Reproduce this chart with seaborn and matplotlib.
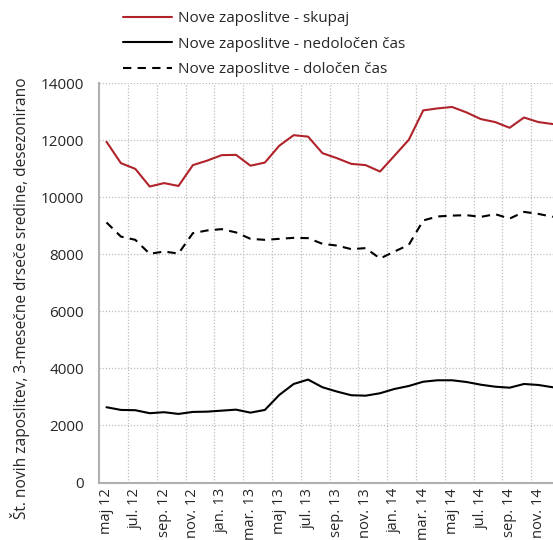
import pandas as pd
import numpy as np
import seaborn as sns
import matplotlib.pyplot as plt
from matplotlib.lines import Line2D

# -----------------------------
# Data
# -----------------------------
months = [
    "maj 12", "jun. 12", "jul. 12", "avg. 12", "sep. 12", "okt. 12", "nov. 12", "dec. 12",
    "jan. 13", "feb. 13", "mar. 13", "apr. 13", "maj 13", "jun. 13", "jul. 13", "avg. 13",
    "sep. 13", "okt. 13", "nov. 13", "dec. 13", "jan. 14", "feb. 14", "mar. 14", "apr. 14",
    "maj 14", "jun. 14", "jul. 14", "avg. 14", "sep. 14", "okt. 14", "nov. 14", "dec. 14",
]
skupaj = [11950, 11200, 11000, 10380, 10500, 10400, 11130, 11290, 11480, 11490, 11110, 11220,
          11810, 12180, 12130, 11550, 11375, 11175, 11130, 10905, 11460, 12020, 13050, 13120,
          13170, 12980, 12745, 12640, 12440, 12800, 12640, 12570]
nedolocen = [2640, 2545, 2535, 2430, 2465, 2405, 2475, 2485, 2520, 2555, 2450, 2545,
             3070, 3455, 3610, 3340, 3190, 3060, 3045, 3130, 3280, 3385, 3535, 3585,
             3585, 3525, 3430, 3360, 3325, 3455, 3420, 3340]
dolocen = [9120, 8625, 8510, 8020, 8100, 8030, 8745, 8840, 8885, 8770, 8545, 8510,
           8545, 8580, 8570, 8370, 8310, 8185, 8220, 7855, 8100, 8335, 9190, 9330,
           9360, 9375, 9315, 9410, 9255, 9490, 9420, 9315]

labels = ["Nove zaposlitve - skupaj", "Nove zaposlitve - nedoločen čas", "Nove zaposlitve - določen čas"]
red = "#B0232B"

x = np.arange(len(months))

# -----------------------------
# Plot
# -----------------------------
sns.set_style("white")
plt.rcParams['font.family'] = ['Open Sans', 'DejaVu Sans']

fig = plt.figure(figsize=(5.53, 5.40), dpi=100)
ax = fig.add_axes([99.3 / 553, 57.5 / 540, (560 - 99.3) / 553, (482.5 - 83.3) / 540])

sns.lineplot(x=x, y=skupaj, ax=ax, color=red, linewidth=1.5)
sns.lineplot(x=x, y=nedolocen, ax=ax, color="black", linewidth=1.5)
sns.lineplot(x=x, y=dolocen, ax=ax, color="black", linewidth=1.5, linestyle=(0, (4, 3)))

ax.set_xlim(-0.5, len(months) - 0.5)
ax.set_ylim(0, 14000)
ax.set_yticks(np.arange(0, 14001, 2000))
ax.set_yticklabels([str(v) for v in range(0, 14001, 2000)], fontsize=11)

ax.set_xticks(x[::2])
ax.set_xticklabels(months[::2], rotation=90, fontsize=10.5, va="top")
ax.set_xticks(np.arange(1.5, len(months), 2), minor=True)

ax.tick_params(axis="both", which="both", length=0)
ax.tick_params(axis="x", pad=4)
ax.tick_params(axis="y", pad=11)

ax.grid(False)
ax.yaxis.grid(True, color="#bdbdbd", linestyle=(0, (1, 1.5)), linewidth=0.9)
ax.xaxis.grid(True, which="minor", color="#bdbdbd", linestyle=(0, (1, 1.5)), linewidth=0.9)
ax.set_axisbelow(True)

for s in ["top", "right"]:
    ax.spines[s].set_visible(False)
for s in ["left", "bottom"]:
    ax.spines[s].set_color("#b0b0b0")
    ax.spines[s].set_linewidth(1.5)

ax.set_ylabel("Št. novih zaposlitev, 3-mesečne drseče sredine, desezonirano", fontsize=11.2)
ax.yaxis.set_label_coords((30 - 99.3) / 460.7, 0.461)

handles = [
    Line2D([], [], color=red, linewidth=1.5),
    Line2D([], [], color="black", linewidth=1.5),
    Line2D([], [], color="black", linewidth=1.5, linestyle=(0, (4, 3))),
]
fig.legend(handles, labels, loc="upper left", bbox_to_anchor=(112 / 553, 1.0),
           frameon=False, fontsize=11, handlelength=3.2, handletextpad=0.4,
           labelspacing=0.68, borderaxespad=0.35)

fig.savefig("out.png", dpi=100)
plt.close(fig)
